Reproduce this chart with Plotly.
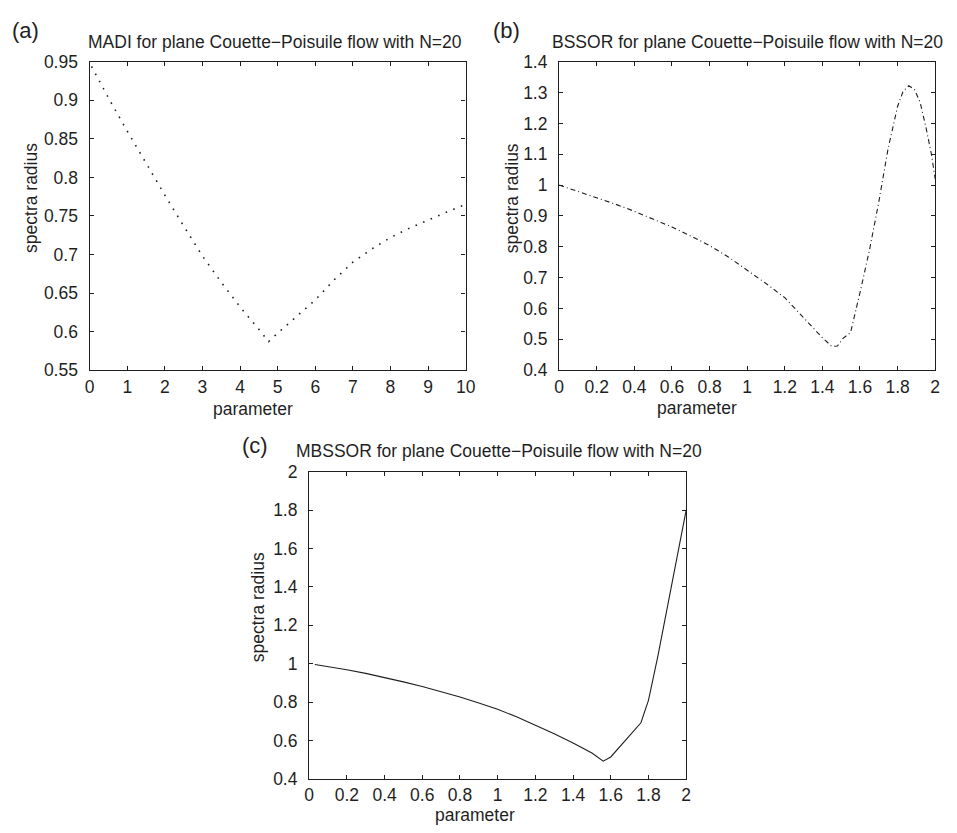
import plotly.graph_objects as go

W, H = 957, 833

# ---- data -------------------------------------------------------------
# (a) MADI: spectral radius vs parameter
madi_x = [0.05, 0.5, 1.0, 1.5, 2.0, 2.5, 3.0, 3.5, 4.0, 4.5, 4.76,
          5.0, 5.5, 6.0, 6.5, 7.0, 7.5, 8.0, 8.5, 9.0, 9.5, 10.0]
madi_y = [0.944, 0.903, 0.860, 0.818, 0.777, 0.737, 0.698, 0.664, 0.632, 0.603, 0.587,
          0.598, 0.620, 0.641, 0.667, 0.690, 0.707, 0.722, 0.734, 0.745, 0.755, 0.765]

# (b) BSSOR
bssor_x = [0.0, 0.1, 0.2, 0.3, 0.4, 0.5, 0.6, 0.7, 0.8, 0.9, 1.0, 1.1, 1.2, 1.3,
           1.4, 1.45, 1.48, 1.51, 1.55, 1.6, 1.65, 1.7, 1.75, 1.8, 1.83, 1.86,
           1.89, 1.92, 1.95, 1.98, 2.0]
bssor_y = [1.0, 0.980, 0.960, 0.938, 0.915, 0.890, 0.864, 0.835, 0.804, 0.767, 0.725,
           0.681, 0.635, 0.570, 0.505, 0.477, 0.478, 0.503, 0.522, 0.651, 0.788,
           0.945, 1.120, 1.255, 1.305, 1.322, 1.310, 1.268, 1.190, 1.100, 1.020]

# (c) MBSSOR
mbssor_x = [0.03, 0.1, 0.2, 0.3, 0.4, 0.5, 0.6, 0.7, 0.8, 0.9, 1.0, 1.1, 1.2, 1.3,
            1.4, 1.5, 1.56, 1.6, 1.76, 1.8, 1.85, 1.9, 1.95, 2.0]
mbssor_y = [0.996, 0.986, 0.969, 0.950, 0.929, 0.906, 0.882, 0.856, 0.827, 0.796,
            0.763, 0.724, 0.682, 0.636, 0.588, 0.536, 0.493, 0.515, 0.693, 0.810,
            1.040, 1.300, 1.560, 1.800]

titles = ["MADI for plane Couette\u2212Poisuile flow with N=20",
          "BSSOR for plane Couette\u2212Poisuile flow with N=20",
          "MBSSOR for plane Couette\u2212Poisuile flow with N=20"]
panel_tags = ["(a)", "(b)", "(c)"]
x_title = "parameter"
y_title = "spectra radius"

# ---- helpers -----------------------------------------------------------
def px_x(v):
    return v / W

def px_y(v):
    return 1 - v / H

FONT = "Liberation Sans, Arial, Helvetica, sans-serif"
INK = "#1f1f1f"
FS = 17.5

fig = go.Figure()

fig.add_trace(go.Scatter(x=madi_x, y=madi_y, mode="lines", xaxis="x", yaxis="y",
                         line=dict(color=INK, width=1.6, dash="1.6px,6.6px")))
fig.add_trace(go.Scatter(x=bssor_x, y=bssor_y, mode="lines", xaxis="x2", yaxis="y2",
                         line=dict(color=INK, width=1.1, dash="5px,3px,1px,3px")))
fig.add_trace(go.Scatter(x=mbssor_x, y=mbssor_y, mode="lines", xaxis="x3", yaxis="y3",
                         line=dict(color=INK, width=1.1)))

# plot boxes in pixels: (left, right, top, bottom)
boxes = [(86, 468, 53, 369), (563, 945, 53, 369), (309, 692, 473, 788)]
xranges = [[0, 10], [0, 2], [0, 2]]
yranges = [[0.55, 0.95], [0.4, 1.4], [0.4, 2.0]]
xdticks = [1, 0.2, 0.2]
ydticks = [0.05, 0.1, 0.2]
xstandoff = [1, 1, 0]

axis_common = dict(
    showline=True, linecolor=INK, linewidth=1.4, mirror="ticks",
    ticks="inside", ticklen=4, tickwidth=1, tickcolor=INK,
    showgrid=False, zeroline=False, tickmode="linear",
    tickfont=dict(family=FONT, size=FS, color=INK),
)

layout_axes = {}
for i, (l, r, t, b) in enumerate(boxes):
    sx = "" if i == 0 else str(i + 1)
    layout_axes["xaxis" + sx] = dict(
        axis_common, domain=[px_x(l), px_x(r)], range=xranges[i], tick0=0,
        dtick=xdticks[i], anchor="y" + sx, ticklabelstandoff=xstandoff[i])
    layout_axes["yaxis" + sx] = dict(
        axis_common, domain=[px_y(b), px_y(t)], range=yranges[i],
        tick0=yranges[i][0], dtick=ydticks[i], anchor="x" + sx,
        ticklabelstandoff=7)

fig.update_layout(**layout_axes)

ann = []
# titles
for txt, (cx, cy) in zip(titles, [(274, 32.5), (754, 32.5), (502, 451.5)]):
    ann.append(dict(text=txt, x=px_x(cx), y=px_y(cy), xref="paper", yref="paper",
                    xanchor="center", yanchor="middle", showarrow=False,
                    font=dict(family=FONT, size=FS, color=INK)))
# panel tags
for txt, (cx, cy) in zip(panel_tags, [(21, 21), (509, 21), (254, 446)]):
    ann.append(dict(text=txt, x=px_x(cx), y=px_y(cy), xref="paper", yref="paper",
                    xanchor="center", yanchor="middle", showarrow=False,
                    font=dict(family=FONT, size=22, color=INK)))
# x axis titles
for cx, cy in [(252, 409), (703, 408), (477, 825)]:
    ann.append(dict(text=x_title, x=px_x(cx), y=px_y(cy), xref="paper", yref="paper",
                    xanchor="center", yanchor="middle", showarrow=False, borderpad=0,
                    font=dict(family=FONT, size=FS, color=INK)))
# y axis titles
for cx, cy in [(27, 193), (515, 193), (257, 612)]:
    ann.append(dict(text=y_title, x=px_x(cx), y=px_y(cy), xref="paper", yref="paper",
                    xanchor="center", yanchor="middle", showarrow=False, textangle=-90,
                    font=dict(family=FONT, size=FS, color=INK)))

fig.update_layout(
    width=W, height=H, margin=dict(l=0, r=0, t=0, b=0),
    paper_bgcolor="white", plot_bgcolor="white", showlegend=False,
    annotations=ann,
)

fig.write_html("out.html", config={"displayModeBar": False})
